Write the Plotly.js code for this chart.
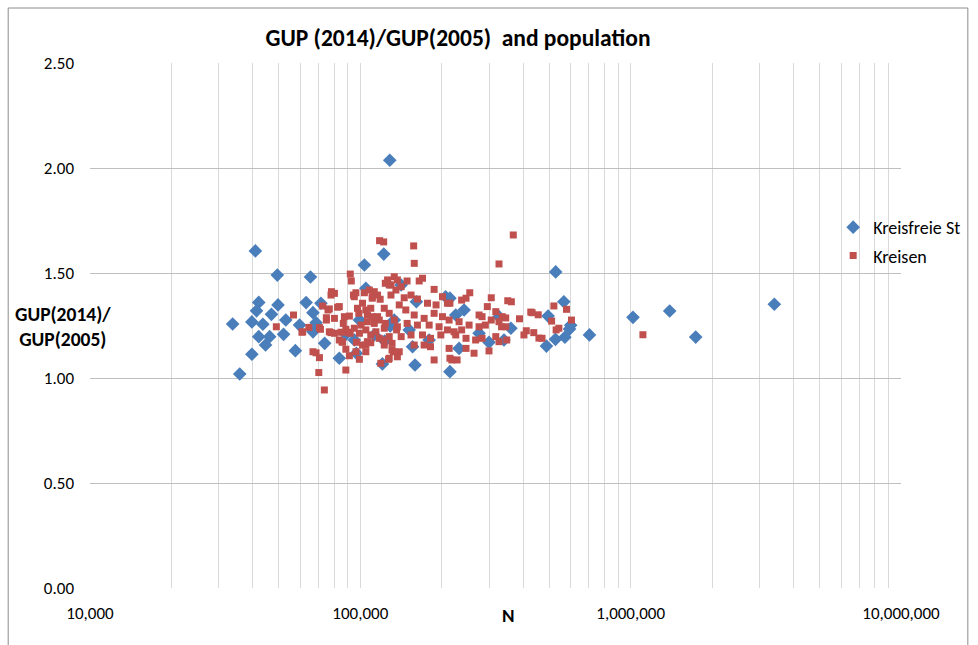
<!DOCTYPE html>
<html><head><meta charset="utf-8">
<script src="https://cdn.plot.ly/plotly-3.0.1.min.js"></script>
<style>html,body{margin:0;padding:0;background:#fff;}#chart{width:978px;height:645px;}</style>
</head><body><div id="chart"></div>
<script>
// Kreisfreie Städte
const kfsN = [33700,35800,39700,40900,42100,41300,39700,42100,43600,44600,46200,46900,49300,49600,52000,53000,57500,59600,63000,65400,66800,71500,68600,66800,73800,83600,88400,96700,103500,104800,120700,122100,128500,123000,129000,141600,159300,156000,161200,206700,214500,214500,242000,225400,231900,274900,299200,339900,360600,325800,488000,495000,528000,566000,527000,571000,594000,600000,704000,1020000,1394000,1740000,3400000,133500,151600,179700,112600,99200,95000];
const kfsRatio = [1.257,1.019,1.113,1.605,1.360,1.320,1.267,1.197,1.256,1.157,1.197,1.303,1.490,1.348,1.208,1.276,1.130,1.252,1.359,1.481,1.311,1.356,1.263,1.220,1.165,1.094,1.208,1.118,1.538,1.427,1.067,1.590,2.037,1.176,1.248,1.443,1.062,1.149,1.363,1.387,1.380,1.030,1.324,1.300,1.141,1.213,1.170,1.181,1.237,1.292,1.152,1.295,1.505,1.363,1.184,1.194,1.233,1.251,1.205,1.289,1.319,1.195,1.351,1.276,1.229,1.181,1.205,1.276,1.181];

// Kreise
const kreisN = [48900,56600,61200,64500,60800,72500,77900,80200,75900,82400,74900,71200,77900,80200,86500,88400,91800,92600,96300,95000,101900,107900,110700,118400,123700,133500,127900,135400,83600,85500,66800,68600,70600,88400,91100,96300,99200,104800,101900,109300,88400,70200,73600,127200,132700,91100,98700,104800,110700,117500,123700,114200,99200,91700,104800,122200,131000,136200,70600,74900,80200,87300,83600,78200,76800,94300,103500,97600,76800,84800,89700,95000,100600,106200,86000,96700,104800,117800,122000,157500,158300,325800,367900,126100,137100,148900,165100,169800,129800,141600,187500,112600,115800,110700,129800,145300,162600,154000,201300,177200,190600,210000,139300,122600,109300,106200,115800,127900,133500,147300,158200,172200,187500,201300,213000,112600,122600,137100,149000,162600,179700,195600,210000,109300,117500,127900,141600,154000,169800,181800,198500,106200,122600,131000,139300,158200,172200,181800,213000,127900,137100,119100,187500,214500,254000,246000,237000,305000,295000,214500,274900,282000,317000,335000,305000,231900,252500,274900,290000,325800,345000,225400,246000,267000,282000,317000,325800,246000,263400,299200,218000,228000,222300,237000,351000,362000,345000,388000,427000,455000,432000,411000,402900,438000,457700,470000,510000,520000,579000,604000,530000,542500,1110000,348000,333000];
const kreisRatio = [1.244,1.300,1.220,1.241,1.218,1.343,1.395,1.403,1.324,1.337,1.276,1.232,1.216,1.213,1.260,1.232,1.495,1.462,1.406,1.387,1.356,1.419,1.387,1.375,1.451,1.482,1.443,1.419,1.181,1.173,1.125,1.120,1.097,1.137,1.106,1.125,1.089,1.125,1.157,1.168,1.038,1.026,0.943,1.089,1.125,1.295,1.308,1.324,1.292,1.276,1.260,1.220,1.213,1.213,1.229,1.181,1.165,1.229,1.240,1.287,1.284,1.292,1.340,1.411,1.329,1.395,1.406,1.332,1.220,1.218,1.218,1.237,1.252,1.268,1.170,1.170,1.157,1.654,1.648,1.629,1.546,1.543,1.681,1.467,1.467,1.462,1.462,1.475,1.443,1.435,1.422,1.411,1.395,1.380,1.395,1.382,1.376,1.395,1.387,1.356,1.348,1.356,1.348,1.332,1.332,1.300,1.292,1.308,1.276,1.324,1.300,1.284,1.308,1.292,1.276,1.260,1.237,1.244,1.260,1.252,1.252,1.244,1.229,1.205,1.189,1.197,1.197,1.205,1.205,1.189,1.205,1.173,1.157,1.133,1.125,1.157,1.157,1.149,1.141,1.094,1.101,1.070,1.086,1.094,1.406,1.380,1.371,1.382,1.340,1.356,1.300,1.292,1.316,1.292,1.276,1.268,1.252,1.244,1.252,1.268,1.244,1.205,1.189,1.181,1.189,1.197,1.173,1.141,1.118,1.129,1.086,1.086,1.220,1.229,1.368,1.363,1.286,1.282,1.314,1.301,1.311,1.225,1.205,1.216,1.190,1.189,1.271,1.343,1.327,1.276,1.229,1.237,1.206,1.181,1.244];

const seriesNames = ["Kreisfreie St", "Kreisen"];
const decades = [10000, 100000, 1000000, 10000000];
const decadeLabels = ["10,000", "100,000", "1,000,000", "10,000,000"];
const yTicks = [0, 0.5, 1.0, 1.5, 2.0, 2.5];

const xTickVals = [], xTickText = [];
for (let d = 0; d < decades.length; d++) {
  for (let m = 1; m <= (d === decades.length - 1 ? 1 : 9); m++) {
    xTickVals.push(decades[d] * m);
    xTickText.push(m === 1 ? decadeLabels[d] : "");
  }
}

const FONT = "Carlito, Lato, 'Liberation Sans', sans-serif";
const L = 90, R = 903, T = 63, B = 588;
const pw = R - L, ph = B - T;
const px = v => (v - L) / pw;
const py = v => (B - v) / ph;

const traces = [
  {x: kfsN, y: kfsRatio, name: seriesNames[0], type: "scatter", mode: "markers", legendgroup: "a",
   marker: {symbol: "diamond", size: 10.5, color: "#4a7ebb", line: {width: 0}}},
  {x: kreisN, y: kreisRatio, name: seriesNames[1], type: "scatter", mode: "markers", legendgroup: "b",
   marker: {symbol: "square", size: 7, color: "#c0504d", line: {width: 0}}}
];

const layout = {
  width: 978, height: 645,
  margin: {l: L, r: 978 - R, t: T, b: 645 - B, pad: 0},
  paper_bgcolor: "#ffffff", plot_bgcolor: "#ffffff",
  font: {family: FONT, size: 17, color: "#000000"},
  title: {text: "<b>GUP (2014)/GUP(2005)  and population</b>", font: {family: FONT, size: 23.5, color: "#000"},
          xref: "container", x: 458 / 978, xanchor: "center", yref: "container", y: 1 - 38 / 645, yanchor: "middle"},
  xaxis: {type: "log", range: [4, 7], tickmode: "array", tickvals: xTickVals, ticktext: xTickText,
          showgrid: true, gridcolor: "#d9d9d9", gridwidth: 1, zeroline: false, showline: false,
          ticks: "", ticklabelstandoff: 13, tickfont: {family: FONT, size: 17, color: "#000"}},
  yaxis: {range: [0, 2.5], tickmode: "array", tickvals: yTicks, tickformat: ".2f",
          showgrid: true, gridcolor: "#bfbfbf", gridwidth: 1, zeroline: false, showline: false,
          ticks: "", ticklabelstandoff: 15, tickfont: {family: FONT, size: 17, color: "#000"}},
  showlegend: true,
  legend: {x: px(835), y: py(209), xanchor: "left", yanchor: "top", bgcolor: "rgba(0,0,0,0)",
           font: {family: FONT, size: 18, color: "#000"}, traceorder: "grouped", tracegroupgap: 2},
  annotations: [
    {text: "<b>GUP(2014)/<br>GUP(2005)</b>", xref: "paper", yref: "paper", x: px(63), y: py(326),
     xanchor: "center", yanchor: "middle", showarrow: false, align: "center",
     font: {family: FONT, size: 19.5, color: "#000"}},
    {text: "<b>N</b>", xref: "paper", yref: "paper", x: px(510), y: py(615),
     xanchor: "center", yanchor: "middle", showarrow: false, font: {family: FONT, size: 19, color: "#000"}}
  ],
  shapes: [
    {type: "rect", xref: "paper", yref: "paper", x0: px(8), x1: px(970), y0: py(660), y1: py(8),
     line: {color: "#8c8c8c", width: 1}, fillcolor: "rgba(0,0,0,0)", layer: "below"}
  ]
};

Plotly.newPlot("chart", traces, layout, {displayModeBar: false, staticPlot: true});
</script></body></html>
